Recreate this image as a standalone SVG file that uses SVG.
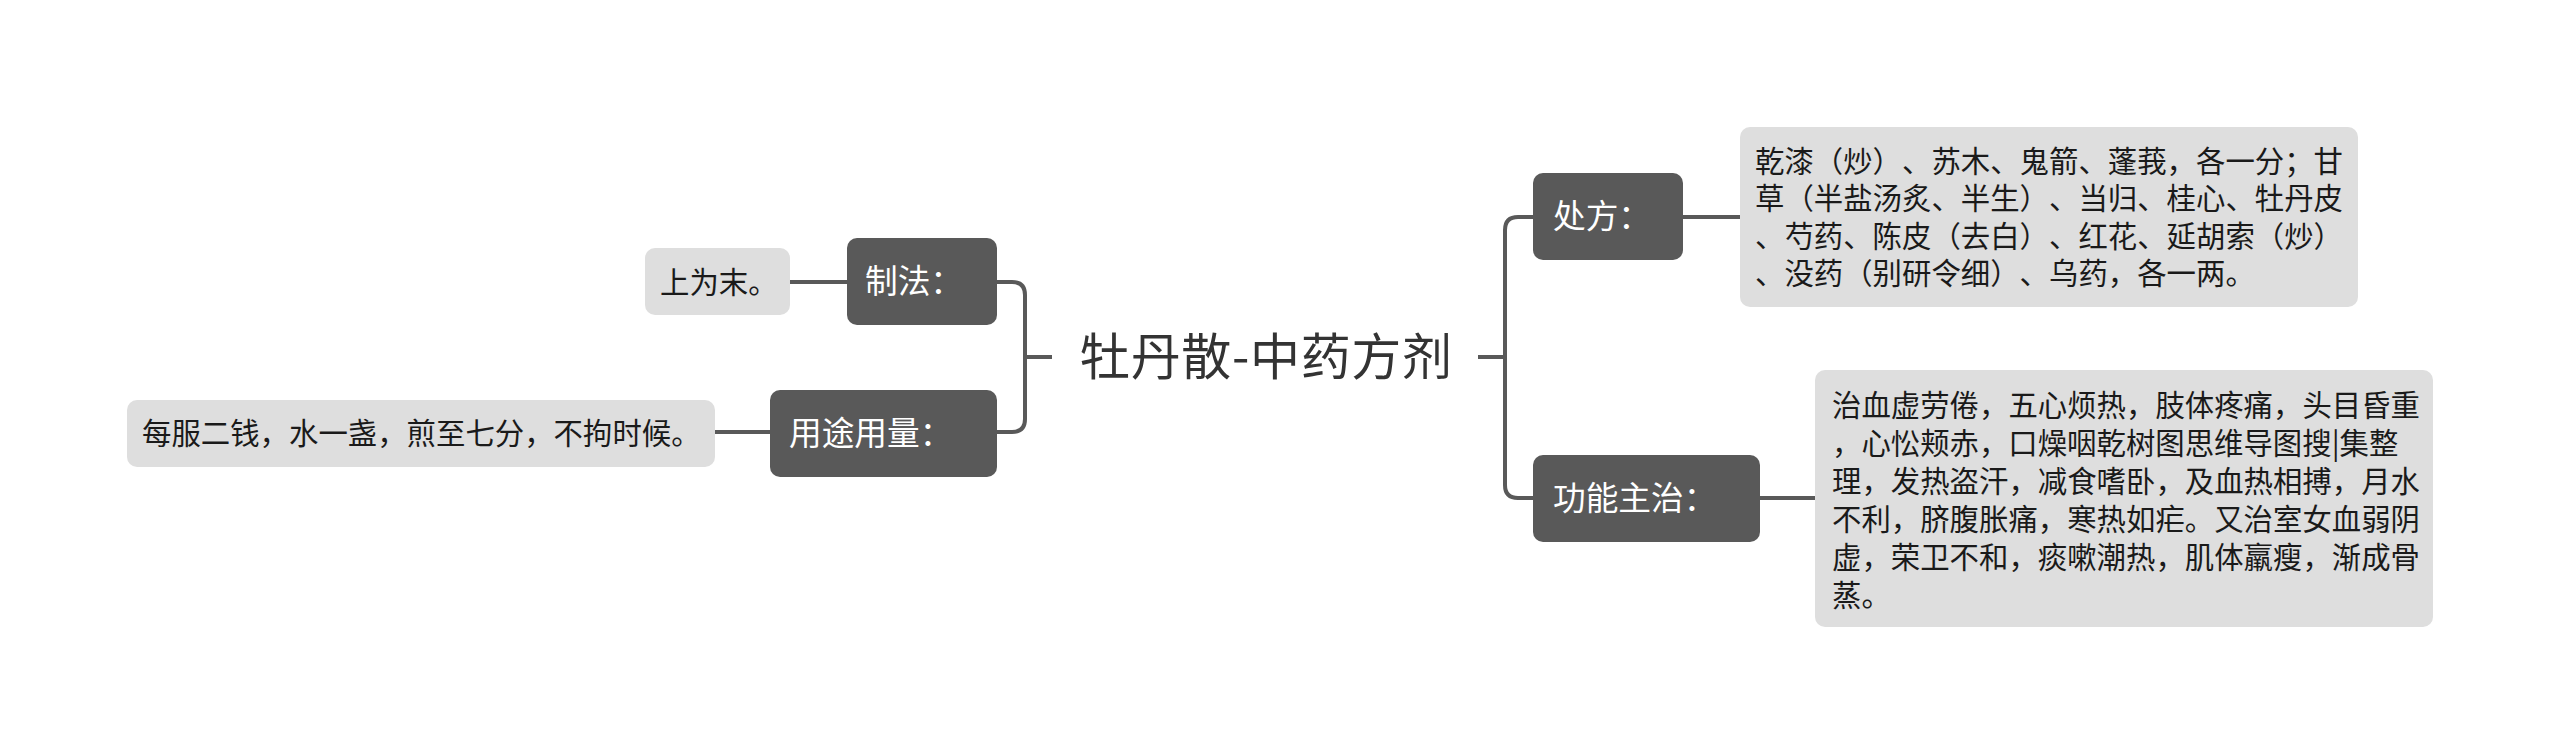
<svg xmlns="http://www.w3.org/2000/svg" width="2560" height="753" viewBox="0 0 2560 753">
<style>
text{font-family:"Noto Sans CJK SC","Noto Sans",sans-serif;text-spacing-trim:space-all}
.dark{fill:#595959}
.leaf{fill:#dedede}
.dt{fill:#ffffff;font-size:32.7px}
.lt{fill:#1a1a1a;font-size:29.4px}
.ct{fill:#333333;font-size:50px}
.conn{fill:none;stroke:#595959;stroke-width:4}
</style>
<rect width="2560" height="753" fill="#ffffff"/>
<g id="connectors">
<path class="conn" d="M997,282 H1012 Q1025,282 1025,295 V419 Q1025,432 1012,432 H997"/>
<path class="conn" d="M1025,357 H1052"/>
<path class="conn" d="M1533,217 H1518 Q1505,217 1505,230 V485 Q1505,498 1518,498 H1533"/>
<path class="conn" d="M1478,357 H1505"/>
<path class="conn" d="M790,282 H847"/>
<path class="conn" d="M715,432 H770"/>
<path class="conn" d="M1683,217 H1740"/>
<path class="conn" d="M1760,498 H1815"/>
</g>
<g id="root">
<text class="ct" x="1080" y="375" textLength="372" lengthAdjust="spacing">牡丹散-中药方剂</text>
</g>
<g id="zhifa">
<rect class="dark" x="847" y="238" width="150" height="87" rx="10"/>
<text class="dt" x="865" y="293">制法：</text>
</g>
<g id="zhifa-leaf">
<rect class="leaf" x="645" y="248" width="145" height="67" rx="10"/>
<text class="lt" x="660" y="292.5">上为末。</text>
</g>
<g id="yongtu">
<rect class="dark" x="770" y="390" width="227" height="87" rx="10"/>
<text class="dt" x="789" y="445">用途用量：</text>
</g>
<g id="yongtu-leaf">
<rect class="leaf" x="127" y="400" width="588" height="67" rx="10"/>
<text class="lt" x="142" y="443.5" textLength="558.6" lengthAdjust="spacing">每服二钱，水一盏，煎至七分，不拘时候。</text>
</g>
<g id="chufang">
<rect class="dark" x="1533" y="173" width="150" height="87" rx="10"/>
<text class="dt" x="1553" y="228">处方：</text>
</g>
<g id="chufang-leaf">
<rect class="leaf" x="1740" y="127" width="618" height="180" rx="10"/>
<text class="lt" x="1755" y="171.5" textLength="588" lengthAdjust="spacing">乾漆（炒）、苏木、鬼箭、蓬莪，各一分；甘</text>
<text class="lt" x="1755" y="209" textLength="588" lengthAdjust="spacing">草（半盐汤炙、半生）、当归、桂心、牡丹皮</text>
<text class="lt" x="1755" y="246.5" textLength="588" lengthAdjust="spacing">、芍药、陈皮（去白）、红花、延胡索（炒）</text>
<text class="lt" x="1755" y="284" textLength="499.8" lengthAdjust="spacing">、没药（别研令细）、乌药，各一两。</text>
</g>
<g id="gongneng">
<rect class="dark" x="1533" y="455" width="227" height="87" rx="10"/>
<text class="dt" x="1553" y="510">功能主治：</text>
</g>
<g id="gongneng-leaf">
<rect class="leaf" x="1815" y="370" width="618" height="257" rx="10"/>
<text class="lt" x="1832" y="415.5" textLength="588" lengthAdjust="spacing">治血虚劳倦，五心烦热，肢体疼痛，头目昏重</text>
<text class="lt" x="1832" y="453.5">，心忪颊赤，口燥咽乾树图思维导图搜|集整</text>
<text class="lt" x="1832" y="491.5" textLength="588" lengthAdjust="spacing">理，发热盗汗，减食嗜卧，及血热相搏，月水</text>
<text class="lt" x="1832" y="529.5" textLength="588" lengthAdjust="spacing">不利，脐腹胀痛，寒热如疟。又治室女血弱阴</text>
<text class="lt" x="1832" y="567.5" textLength="588" lengthAdjust="spacing">虚，荣卫不和，痰嗽潮热，肌体羸瘦，渐成骨</text>
<text class="lt" x="1832" y="605.5">蒸。</text>
</g>
</svg>
